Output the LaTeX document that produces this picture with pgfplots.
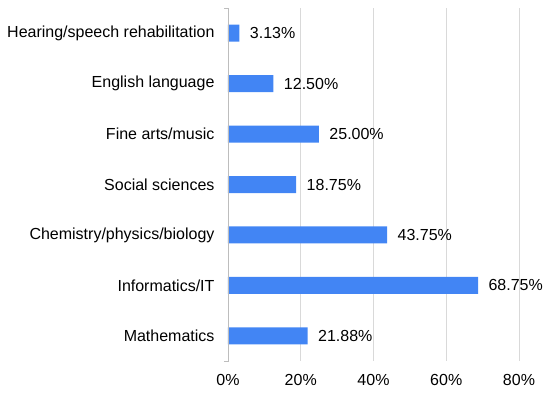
\documentclass[border=0pt]{standalone}
\usepackage{pgfplots}
\pgfplotsset{compat=1.18}
\usepackage{fontspec}
\setmainfont{Liberation Sans}
\definecolor{barblue}{HTML}{4285F4}
\definecolor{gridgray}{HTML}{D9D9D9}
\definecolor{axisgray}{HTML}{BDBDBD}
\begin{document}
\begin{tikzpicture}
\path[use as bounding box] (-228pt,-35pt) rectangle (322pt,361pt);
\begin{axis}[
  name=ax,
  at={(0pt,0pt)}, anchor=south west,
  scale only axis, width=291pt, height=353pt,
  xmin=0, xmax=80, ymin=-0.5, ymax=6.5,
  xbar, bar width=17pt,
  axis x line*=bottom, axis y line*=left,
  axis line style={draw=none},
  xtick={0,20,40,60,80},
  xticklabels={0\%,20\%,40\%,60\%,80\%},
  xmajorgrids, major grid style={gridgray, line width=0.8pt},
  major tick length=0pt,
  ytick={0,1,2,3,4,5,6},
  yticklabels={Mathematics,Informatics/IT,Chemistry/physics/biology,Social sciences,Fine arts/music,English language,Hearing/speech rehabilitation},
  tick label style={font=\fontsize{16}{18}\selectfont, text=black},
  /pgf/number format/assume math mode=true,
  yticklabel style={xshift=-10pt},
  xticklabel style={yshift=-10pt},
  nodes near coords={\pgfmathprintnumber[fixed,fixed zerofill,precision=2]{\pgfplotspointmeta}\%},
  point meta=x,
  every node near coord/.append style={font=\fontsize{16}{18}\selectfont, text=black, anchor=west, xshift=7pt},
  clip=false,
]
\addplot[fill=barblue, draw=none] coordinates {
(21.88,0) (68.75,1) (43.75,2) (18.75,3) (25.00,4) (12.50,5) (3.13,6)
};
\end{axis}
\draw[axisgray, line width=0.8pt] ([xshift=-4pt]ax.south west) -- (ax.south west) -- (ax.north west) -- ([xshift=-4pt]ax.north west);
\end{tikzpicture}
\end{document}
